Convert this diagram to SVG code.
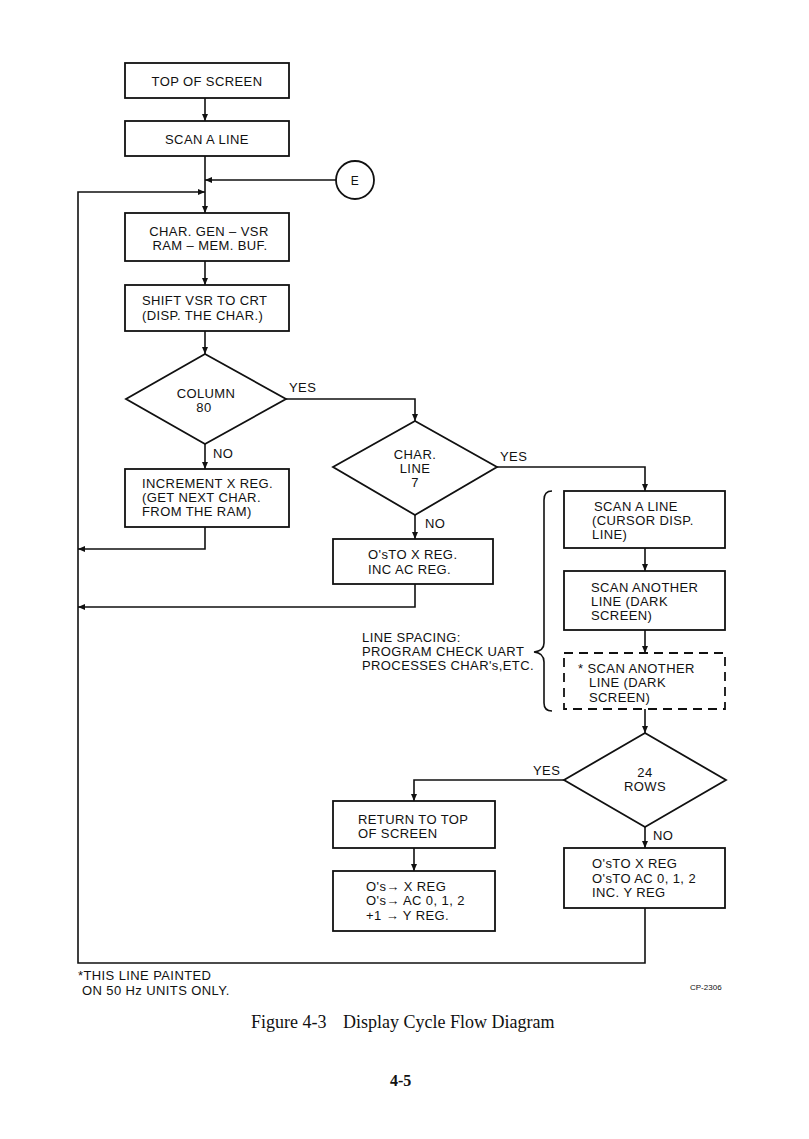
<svg xmlns="http://www.w3.org/2000/svg" width="809" height="1139" viewBox="0 0 809 1139">
<style>
.b{fill:none;stroke:#111;stroke-width:1.8}
.d{fill:none;stroke:#111;stroke-width:1.8;stroke-dasharray:9,6}
.c{fill:none;stroke:#111;stroke-width:1.6}
text{font-family:"Liberation Sans",Arial,sans-serif;font-size:13px;fill:#111;letter-spacing:0.4px}
.m{text-anchor:middle}
.s{font-size:8px;letter-spacing:0}
.cap{font-family:"Liberation Serif","Times New Roman",serif;font-size:18px;letter-spacing:0}
</style>
<defs>
<marker id="a" markerUnits="userSpaceOnUse" markerWidth="8" markerHeight="8" refX="7" refY="3" orient="auto"><path d="M0,0 L7,3 L0,6 z" fill="#111"/></marker>
</defs>
<rect width="809" height="1139" fill="#fff"/>
<g id="connectors">
<path class="c" d="M205,98 V121" marker-end="url(#a)"/>
<path class="c" d="M205,156 V213" marker-end="url(#a)"/>
<path class="c" d="M336,180 H205" marker-end="url(#a)"/>
<path class="c" d="M645,908 V963 H78 V192 H205" marker-end="url(#a)"/>
<path class="c" d="M205,261 V285" marker-end="url(#a)"/>
<path class="c" d="M205,331 V354" marker-end="url(#a)"/>
<path class="c" d="M205,444 V469" marker-end="url(#a)"/>
<path class="c" d="M286,399 H415 V421" marker-end="url(#a)"/>
<path class="c" d="M205,527 V549 H78" marker-end="url(#a)"/>
<path class="c" d="M415,515 V539" marker-end="url(#a)"/>
<path class="c" d="M415,584 V607 H78" marker-end="url(#a)"/>
<path class="c" d="M497,467 H645 V491" marker-end="url(#a)"/>
<path class="c" d="M645,548 V571" marker-end="url(#a)"/>
<path class="c" d="M645,630 V653" marker-end="url(#a)"/>
<path class="c" d="M645,709 V733" marker-end="url(#a)"/>
<path class="c" d="M564,780 H414 V801" marker-end="url(#a)"/>
<path class="c" d="M414,848 V871" marker-end="url(#a)"/>
<path class="c" d="M645,827 V848" marker-end="url(#a)"/>
<text x="289" y="392">YES</text>
<text x="213" y="458">NO</text>
<text x="500" y="461">YES</text>
<text x="425" y="528">NO</text>
<text x="533" y="775">YES</text>
<text x="653" y="840">NO</text>
</g>
<g id="top">
<rect class="b" x="125" y="63" width="164" height="35"/>
<text class="m" x="207" y="86">TOP OF SCREEN</text>
</g>
<g id="scan1">
<rect class="b" x="125" y="121" width="164" height="35"/>
<text class="m" x="207" y="144">SCAN A LINE</text>
</g>
<g id="E">
<circle class="b" cx="355" cy="180" r="19"/>
<text class="m" x="355" y="185" style="font-size:12px">E</text>
</g>
<g id="chargen">
<rect class="b" x="125" y="213" width="164" height="48"/>
<text class="m" x="209" y="236">CHAR. GEN – VSR</text>
<text class="m" x="210" y="250">RAM – MEM. BUF.</text>
</g>
<g id="shift">
<rect class="b" x="125" y="285" width="164" height="46"/>
<text x="142" y="305">SHIFT VSR TO CRT</text>
<text x="142" y="320">(DISP. THE CHAR.)</text>
</g>
<g id="col80">
<polygon class="b" points="205,354 286,399 205,444 126,399"/>
<text class="m" x="206" y="398">COLUMN</text>
<text class="m" x="204" y="412">80</text>
</g>
<g id="incx">
<rect class="b" x="125" y="469" width="164" height="58"/>
<text x="142" y="488">INCREMENT X REG.</text>
<text x="142" y="502">(GET NEXT CHAR.</text>
<text x="142" y="516">FROM THE RAM)</text>
</g>
<g id="charline">
<polygon class="b" points="415,421 497,467 415,515 333,467"/>
<text class="m" x="415" y="459">CHAR.</text>
<text class="m" x="415" y="473">LINE</text>
<text class="m" x="415" y="487">7</text>
</g>
<g id="zerox">
<rect class="b" x="333" y="539" width="160" height="45"/>
<text x="368" y="559">O'sTO X REG.</text>
<text x="368" y="574">INC AC REG.</text>
</g>
<g id="cursor">
<rect class="b" x="564" y="491" width="161" height="57"/>
<text x="594" y="511">SCAN A LINE</text>
<text x="592" y="525">(CURSOR DISP.</text>
<text x="592" y="539">LINE)</text>
</g>
<g id="dark1">
<rect class="b" x="564" y="571" width="161" height="59"/>
<text x="591" y="592">SCAN ANOTHER</text>
<text x="591" y="606">LINE (DARK</text>
<text x="591" y="620">SCREEN)</text>
</g>
<g id="dark2">
<rect class="d" x="564" y="653" width="161" height="56"/>
<text x="578" y="673">* SCAN ANOTHER</text>
<text x="589" y="687">LINE (DARK</text>
<text x="589" y="702">SCREEN)</text>
</g>
<g id="spacing">
<path class="c" d="M552,491 Q544,491 544,500 L544,643 Q544,651 534,652 Q544,653 544,662 L544,703 Q544,711 552,711"/>
<text x="362" y="642">LINE SPACING:</text>
<text x="362" y="656">PROGRAM CHECK UART</text>
<text x="362" y="670">PROCESSES CHAR's,ETC.</text>
</g>
<g id="rows24">
<polygon class="b" points="645,733 726,780 645,827 564,780"/>
<text class="m" x="645" y="777">24</text>
<text class="m" x="645" y="791">ROWS</text>
</g>
<g id="ret">
<rect class="b" x="333" y="801" width="162" height="47"/>
<text x="358" y="824">RETURN TO TOP</text>
<text x="358" y="838">OF SCREEN</text>
</g>
<g id="regs">
<rect class="b" x="333" y="871" width="162" height="60"/>
<text x="366" y="891">O's→ X REG</text>
<text x="366" y="905">O's→ AC 0, 1, 2</text>
<text x="366" y="920">+1 → Y REG.</text>
</g>
<g id="incy">
<rect class="b" x="564" y="848" width="161" height="60"/>
<text x="592" y="868">O'sTO X REG</text>
<text x="592" y="883">O'sTO AC 0, 1, 2</text>
<text x="592" y="897">INC. Y REG</text>
</g>
<g id="notes">
<text x="78" y="980">*THIS LINE PAINTED</text>
<text x="82" y="995">ON 50 Hz UNITS ONLY.</text>
<text x="690" y="990" class="s">CP-2306</text>
<text class="cap" y="1028"><tspan x="251">Figure 4-3</tspan><tspan x="343">Display Cycle Flow Diagram</tspan></text>
<text class="cap" x="390" y="1086" style="font-size:16px;font-weight:bold">4-5</text>
</g>
</svg>
